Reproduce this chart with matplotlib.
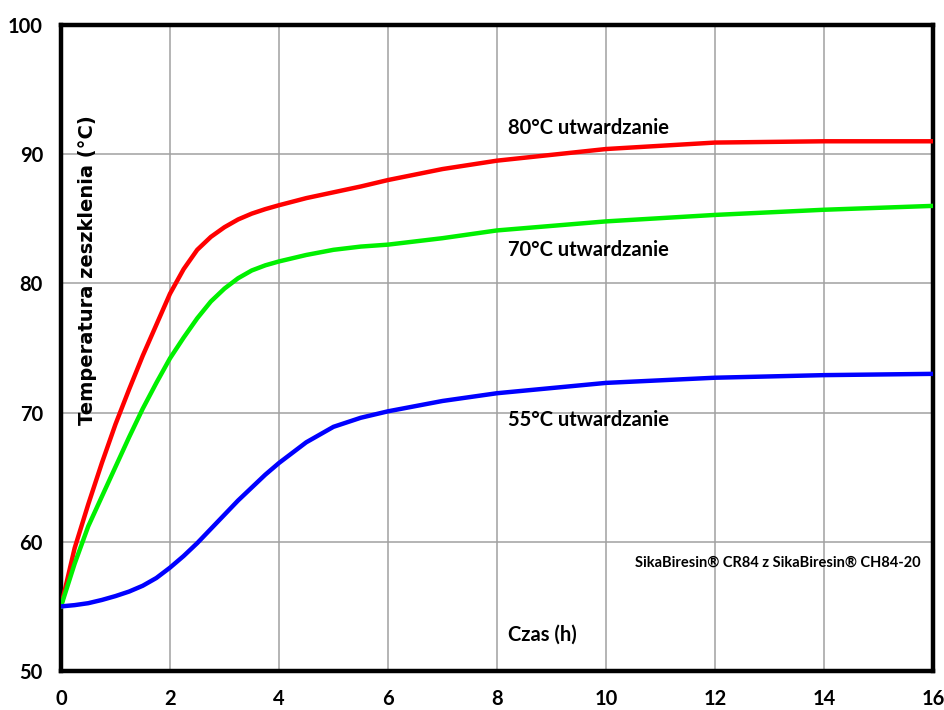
import matplotlib.pyplot as plt

plt.rcParams["font.family"] = ["Lato", "DejaVu Sans"]
plt.rcParams["font.weight"] = "bold"

# Time (h) and glass transition temperature (°C)
time_h = [0, 0.25, 0.5, 0.75, 1, 1.25, 1.5, 1.75, 2, 2.25, 2.5, 2.75, 3, 3.25, 3.5, 3.75,
          4, 4.5, 5, 5.5, 6, 7, 8, 10, 12, 14, 16]
tg_80 = [55, 59.5, 62.9, 66.1, 69.1, 71.8, 74.4, 76.8, 79.2, 81.1, 82.6, 83.6, 84.35, 84.95, 85.4, 85.75,
         86.05, 86.6, 87.05, 87.5, 88.0, 88.85, 89.5, 90.4, 90.9, 91.0, 91.0]
tg_70 = [55, 58.3, 61.2, 63.5, 65.8, 68.1, 70.3, 72.3, 74.2, 75.8, 77.3, 78.6, 79.6, 80.4, 81.0, 81.4,
         81.7, 82.2, 82.6, 82.85, 83.0, 83.5, 84.1, 84.8, 85.3, 85.7, 86.0]
tg_55 = [55, 55.1, 55.25, 55.5, 55.8, 56.15, 56.6, 57.2, 58.0, 58.9, 59.9, 61.0, 62.1, 63.2, 64.2, 65.2,
         66.1, 67.7, 68.9, 69.6, 70.1, 70.9, 71.5, 72.3, 72.7, 72.9, 73.0]

x_ticks = [0, 2, 4, 6, 8, 10, 12, 14, 16]
y_ticks = [50, 60, 70, 80, 90, 100]

GRID = "#a0a0a0"
FS = 14.5

fig = plt.figure(figsize=(9.44, 7.10), dpi=100)
ax = fig.add_axes([0.0646, 0.0549, 0.9237, 0.9099])

ax.plot(time_h, tg_80, color="#ff0000", linewidth=3.2, solid_joinstyle="round", zorder=3)
ax.plot(time_h, tg_70, color="#00f000", linewidth=3.2, solid_joinstyle="round", zorder=3)
ax.plot(time_h, tg_55, color="#0000ff", linewidth=3.2, solid_joinstyle="round", zorder=3)

ax.set_xlim(0, 16)
ax.set_ylim(50, 100)
ax.set_xticks(x_ticks)
ax.set_yticks(y_ticks)
ax.grid(True, color=GRID, linewidth=1.1)
ax.set_axisbelow(True)

for spine in ax.spines.values():
    spine.set_linewidth(3.2)
    spine.set_color("black")

ax.tick_params(axis="both", length=0, labelsize=FS, pad=13)

ax.text(8.2, 92.0, "80°C utwardzanie", fontsize=FS, va="center", ha="left")
ax.text(8.2, 82.6, "70°C utwardzanie", fontsize=FS, va="center", ha="left")
ax.text(8.2, 69.4, "55°C utwardzanie", fontsize=FS, va="center", ha="left")
ax.text(8.2, 52.8, "Czas (h)", fontsize=FS, va="center", ha="left")
ax.text(10.53, 58.4, "SikaBiresin® CR84 z SikaBiresin® CH84-20", fontsize=10.5,
        va="center", ha="left")
ax.text(0.48, 81.0, "Temperatura zeszklenia (°C)", fontsize=14,
        family="DejaVu Sans", rotation=90, va="center", ha="center")

fig.savefig("out.png", dpi=100, facecolor="white")
